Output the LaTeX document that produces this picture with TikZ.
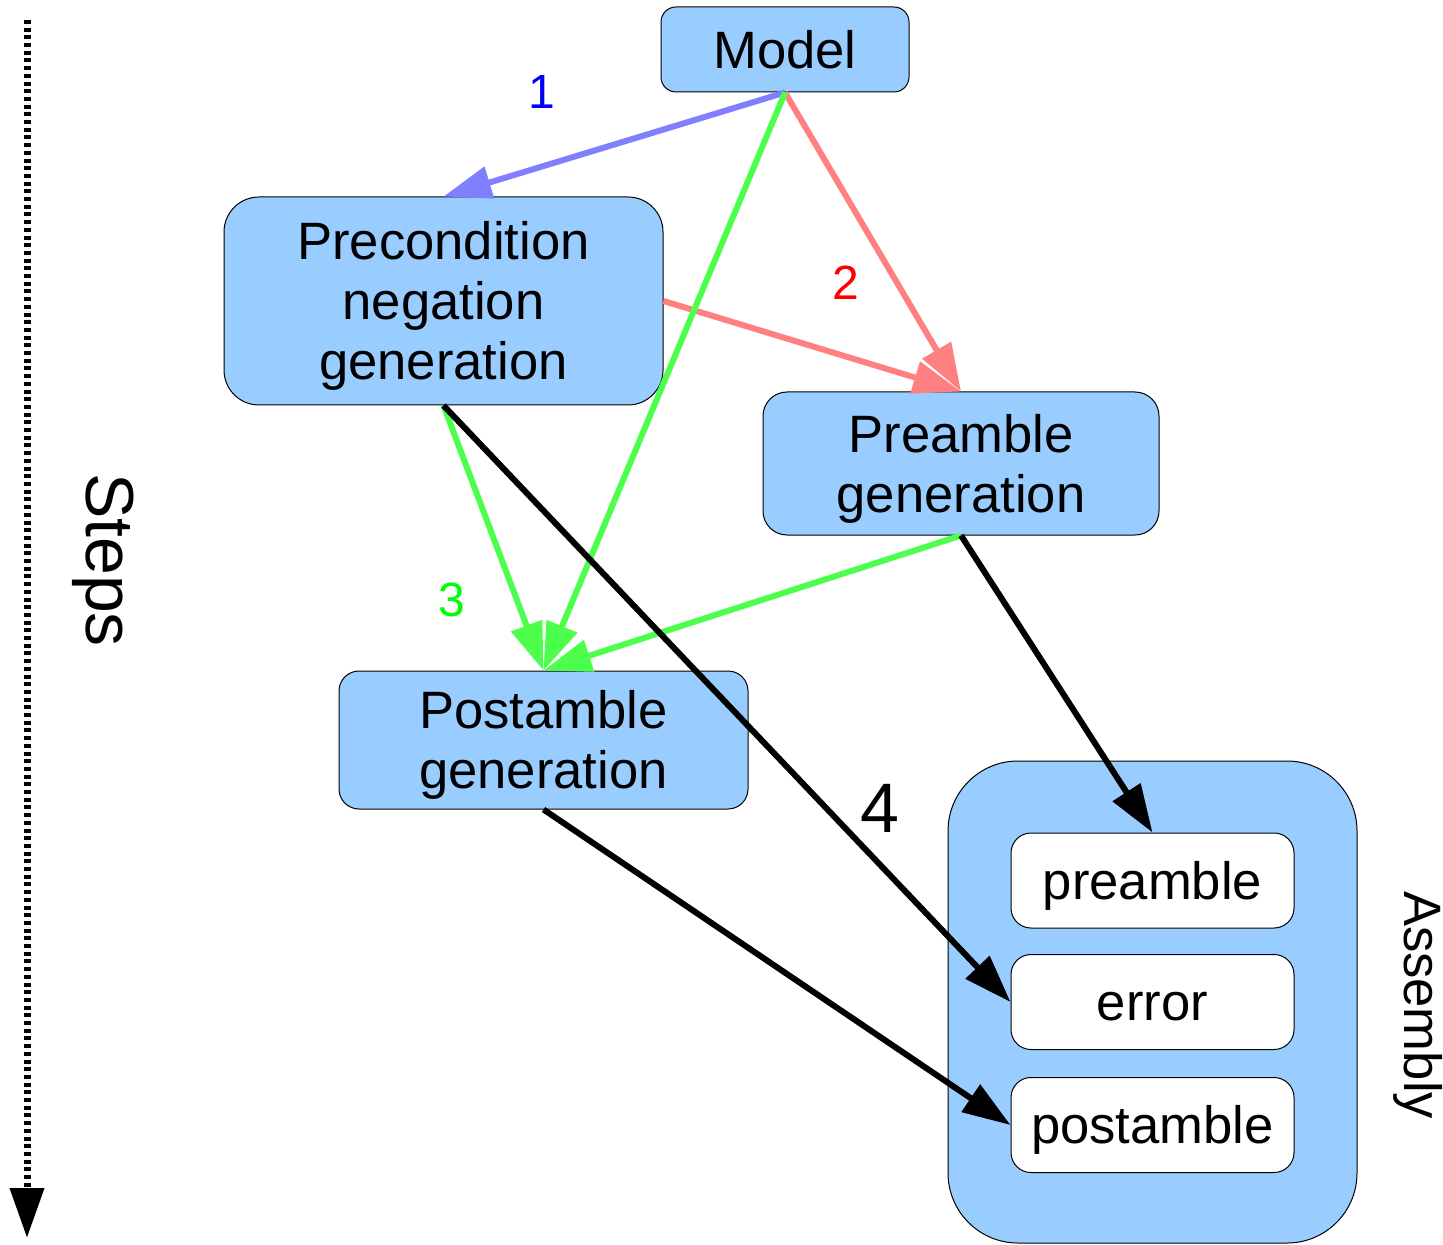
\documentclass[tikz,border=0pt]{standalone}
\usepackage{fontspec}
\setmainfont{Liberation Sans}
\usetikzlibrary{arrows.meta}
\definecolor{boxfill}{HTML}{99CCFF}
\definecolor{blueflow}{HTML}{8080FF}
\definecolor{redflow}{HTML}{FF8080}
\definecolor{greenflow}{HTML}{4DFF4D}
\definecolor{stepblue}{HTML}{0000FF}
\definecolor{stepred}{HTML}{FF0000}
\definecolor{stepgreen}{HTML}{00FF00}
% extra room above the first line of a multi-line stage label
\newcommand{\toproom}{\rule{0pt}{24pt}}

\begin{document}
\begin{tikzpicture}[x=0.5pt,y=-0.5pt,
  stage/.style={draw=black, line width=0.5pt, fill=boxfill, align=center,
    font=\fontsize{26.3}{30}\selectfont, inner sep=0pt},
  part/.style={draw=black, line width=0.5pt, fill=white, rounded corners=10pt,
    font=\fontsize{26.3}{30}\selectfont, inner sep=0pt,
    text height=23pt, text depth=4.5pt,
    minimum width=141.5pt, minimum height=47.5pt},
  flow/.style={line width=3pt, -{Triangle[length=24pt,width=16pt]}},
  steplabel/.style={font=\fontsize{24}{28}\selectfont, inner sep=0pt},
]
\useasboundingbox (0,0) rectangle (1443,1245);

% processing stages
\node[stage, rounded corners=7.5pt, minimum width=124pt, minimum height=42.5pt]
  (model) at (785,49.5) {Model};
\node[stage, rounded corners=17.5pt, minimum width=219.5pt, minimum height=104pt]
  (precond) at (443.5,301) {\toproom Precondition\\negation\\generation};
\node[stage, rounded corners=12pt, minimum width=198pt, minimum height=71.5pt]
  (preamblegen) at (961,463.5) {\toproom Preamble\\generation};
\node[stage, rounded corners=10pt, minimum width=204.5pt, minimum height=69pt]
  (postamblegen) at (543.5,740) {\toproom Postamble\\generation};

% assembly container with its three parts
\node[stage, rounded corners=35pt, minimum width=204.5pt, minimum height=241pt]
  (assembly) at (1152.5,1002) {};
\node[part] (pre) at (1152.5,880.5) {preamble};
\node[part] (err) at (1152.5,1002) {error};
\node[part] (post) at (1152.5,1125) {postamble};
\node[rotate=-90, font=\fontsize{26.3}{30}\selectfont, inner sep=0pt]
  (assemblylabel) at (1418,1005) {Assembly};

% time axis
\coordinate (axistop) at (27,20);
\coordinate (axisbottom) at (27,1238);
\draw[line width=3.5pt, dash pattern=on 2pt off 1.85pt,
  -{Triangle[length=25pt,width=16.5pt]}] (axistop) -- (axisbottom);
\node[rotate=-90, font=\fontsize{34}{38}\selectfont, inner sep=0pt]
  (stepslabel) at (103,560) {Steps};

% step 1
\draw[flow, blueflow] (model.south) -- (precond.north);
% step 2
\draw[flow, redflow] (model.south) -- (preamblegen.north);
\draw[flow, redflow] (precond.east) -- (preamblegen.north);
% step 3
\draw[flow, greenflow] (model.south) -- (postamblegen.north);
\draw[flow, greenflow] (precond.south) -- (postamblegen.north);
\draw[flow, greenflow] (preamblegen.south) -- (postamblegen.north);
% step 4
\draw[flow, black] (precond.south) -- (err.west);
\draw[flow, black] (preamblegen.south) -- (pre.north);
\draw[flow, black] (postamblegen.south) -- (post.west);

% step numbers
\node[steplabel, text=stepblue] (n1) at (542,92) {1};
\node[steplabel, text=stepred] (n2) at (846,283) {2};
\node[steplabel, text=stepgreen] (n3) at (452,600) {3};
\node[font=\fontsize{35}{40}\selectfont, inner sep=0pt] (n4) at (880,808) {4};
\end{tikzpicture}
\end{document}
